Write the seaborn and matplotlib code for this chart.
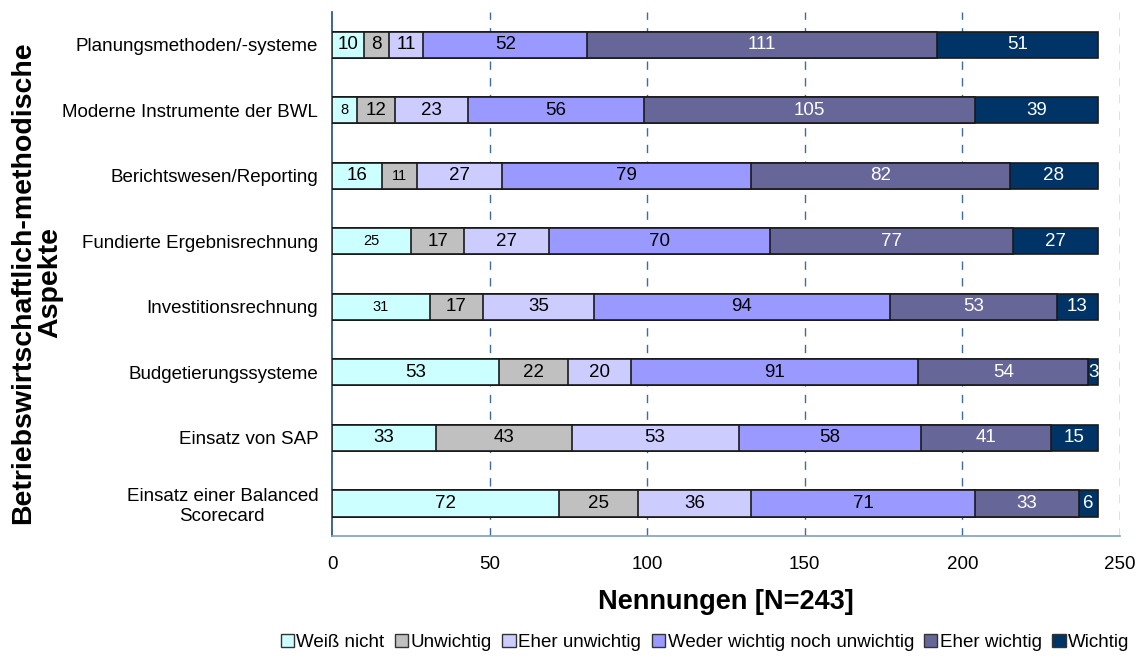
import numpy as np
import pandas as pd
import matplotlib
matplotlib.use("Agg")
import matplotlib.pyplot as plt
import seaborn as sns
from matplotlib.patches import Patch

# Data
aspects = ["Planungsmethoden/-systeme", "Moderne Instrumente der BWL",
           "Berichtswesen/Reporting", "Fundierte Ergebnisrechnung",
           "Investitionsrechnung", "Budgetierungssysteme",
           "Einsatz von SAP", "Einsatz einer Balanced\nScorecard"]
series = ["Weiß nicht", "Unwichtig", "Eher unwichtig",
          "Weder wichtig noch unwichtig", "Eher wichtig", "Wichtig"]
weiss_nicht = [10, 8, 16, 25, 31, 53, 33, 72]
unwichtig = [8, 12, 11, 17, 17, 22, 43, 25]
eher_unwichtig = [11, 23, 27, 27, 35, 20, 53, 36]
weder_noch = [52, 56, 79, 70, 94, 91, 58, 71]
eher_wichtig = [111, 105, 82, 77, 53, 54, 41, 33]
wichtig = [51, 39, 28, 27, 13, 3, 15, 6]
x_ticks = [0, 50, 100, 150, 200, 250]

colors = ["#CCFFFF", "#C0C0C0", "#CCCCFF", "#9999FF", "#666699", "#003366"]
text_colors = ["black", "black", "black", "black", "white", "white"]
small_labels = {(1, 0), (2, 1), (3, 0), (4, 0)}

values = np.array([weiss_nicht, unwichtig, eher_unwichtig,
                   weder_noch, eher_wichtig, wichtig])
cum = values.cumsum(axis=0)

sns.set_style("white")
plt.rcParams["font.family"] = ["Liberation Sans", "DejaVu Sans"]
plt.rcParams["text.color"] = "black"
plt.rcParams["axes.labelcolor"] = "black"
plt.rcParams["xtick.labelcolor"] = "black"
plt.rcParams["ytick.labelcolor"] = "black"

fig = plt.figure(figsize=(11.41, 6.62), dpi=100)
ax = fig.add_axes([0.291, 0.190, 0.6905, 0.792])

# Stacked bars: draw cumulative totals from the longest down
for i in range(len(series) - 1, -1, -1):
    df = pd.DataFrame({"aspect": aspects, "n": cum[i]})
    sns.barplot(data=df, x="n", y="aspect", orient="h", color=colors[i],
                edgecolor="#1a1a1a", linewidth=1.2, width=0.4,
                saturation=1, ax=ax, zorder=3)

# Segment labels
for i in range(len(series)):
    for j in range(len(aspects)):
        v = values[i, j]
        ax.text(cum[i, j] - v / 2, j, str(v), ha="center", va="center",
                color=text_colors[i],
                fontsize=10.5 if (j, i) in small_labels else 13.5, zorder=5)

ax.set_xlim(0, 250)
ax.set_ylim(len(aspects) - 0.5, -0.5)
ax.set_xticks(x_ticks)
ax.set_xticklabels([str(t) for t in x_ticks], fontsize=13.5)
ax.set_yticks(range(len(aspects)))
ax.set_yticklabels(aspects, fontsize=13.5, multialignment="center")
ax.set_yticks(np.arange(-0.5, len(aspects)), minor=True)
ax.tick_params(axis="y", which="major", length=0, pad=10)
ax.tick_params(axis="y", which="minor", length=7, color="#1f4e79", width=1)
ax.tick_params(axis="x", length=6, color="#5b7fa6", width=1, pad=8)

for t in x_ticks[1:]:
    ax.axvline(t, color="#3f6c9a", linestyle=(0, (6, 6)), linewidth=1, zorder=1)

for s in ["top", "right"]:
    ax.spines[s].set_visible(False)
ax.spines["left"].set_color("#1f4e79")
ax.spines["left"].set_linewidth(1.2)
ax.spines["bottom"].set_color("#7f9fbf")
ax.spines["bottom"].set_linewidth(1.2)

ax.set_xlabel("Nennungen [N=243]", fontsize=19.5, fontweight="bold")
ax.xaxis.set_label_coords(0.5, -0.1)
ax.set_ylabel("Betriebswirtschaftlich-methodische\nAspekte", fontsize=20.5,
              fontweight="bold", linespacing=1.05)
ax.yaxis.set_label_coords(-0.341, 0.483)

handles = [Patch(facecolor=c, edgecolor="#333333", label=s)
           for c, s in zip(colors, series)]
fig.legend(handles=handles, loc="lower right", bbox_to_anchor=(1.0, 0.0),
           ncol=6, frameon=False, fontsize=13.5, handlelength=0.7,
           handleheight=0.7, handletextpad=0.15, columnspacing=0.55,
           borderaxespad=0.2)

fig.savefig("out.png", dpi=100)
